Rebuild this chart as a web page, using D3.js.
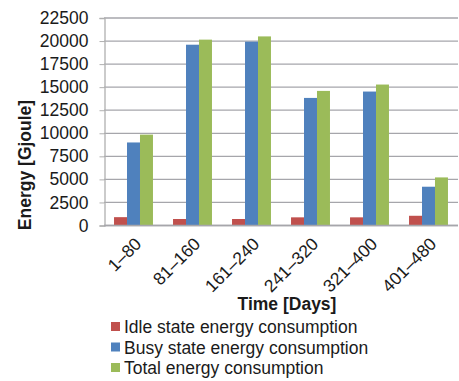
<!DOCTYPE html>
<html>
<head>
<meta charset="utf-8">
<script src="https://cdn.jsdelivr.net/npm/d3@7"></script>
<style>
  html, body { margin: 0; padding: 0; background: #fff; }
  svg { display: block; font-family: "Liberation Sans", Arial, sans-serif; }
</style>
</head>
<body>
<svg id="chart" width="459" height="381"></svg>
<script>
// Time periods (days) and energy per period [Gjoule]
const periods = ["1–80", "81–160", "161–240", "241–320", "321–400", "401–480"];
const idleEnergy  = [850, 650, 650, 830, 830, 1000];
const busyEnergy  = [8950, 19550, 19880, 13780, 14470, 4150];
const totalEnergy = [9800, 20100, 20450, 14540, 15230, 5160];
const yTicks = [0, 2500, 5000, 7500, 10000, 12500, 15000, 17500, 20000, 22500];
const seriesNames = ["Idle state energy consumption", "Busy state energy consumption", "Total energy consumption"];
const seriesColors = ["#C0504D", "#4F81BD", "#9BBB59"];

const series = [idleEnergy, busyEnergy, totalEnergy];
const svg = d3.select("#chart");

const plot = { left: 104, right: 458, top: 17.5, bottom: 225 };

const x = d3.scaleBand().domain(periods).range([plot.left, plot.right]).paddingInner(0.34).paddingOuter(0.17);
const xSeries = d3.scaleBand().domain(d3.range(series.length)).range([0, x.bandwidth()]);
const y = d3.scaleLinear().domain([0, 22500]).range([plot.bottom, plot.top]);

// horizontal gridlines
svg.append("g")
  .selectAll("line")
  .data(yTicks)
  .join("line")
  .attr("x1", plot.left).attr("x2", plot.right)
  .attr("y1", d => y(d) + 0.5).attr("y2", d => y(d) + 0.5)
  .attr("stroke", "#a6a6ab").attr("stroke-width", 1.3);

// y axis
const yAxis = svg.append("g")
  .attr("transform", `translate(${plot.left + 0.5},0.5)`)
  .call(d3.axisLeft(y).tickValues(yTicks).tickSize(5).tickPadding(11).tickFormat(d3.format("d")));
yAxis.select(".domain").attr("stroke", "#b0b0b0").attr("stroke-width", 1.3);
yAxis.selectAll(".tick line").attr("stroke", "#b0b0b0");
yAxis.selectAll(".tick text").attr("font-size", 17.5).attr("fill", "#1a1a1a").attr("font-family", "Liberation Sans, Arial, sans-serif");

// bars
const groups = svg.append("g")
  .selectAll("g")
  .data(periods)
  .join("g")
  .attr("transform", d => `translate(${x(d)},0)`);

groups.selectAll("rect")
  .data((d, i) => series.map((s, k) => ({ k, v: s[i] })))
  .join("rect")
  .attr("x", d => xSeries(d.k))
  .attr("width", xSeries.bandwidth())
  .attr("y", d => y(d.v))
  .attr("height", d => plot.bottom - y(d.v))
  .attr("fill", d => seriesColors[d.k]);

// x axis baseline and labels
svg.append("line")
  .attr("x1", plot.left).attr("x2", plot.right)
  .attr("y1", plot.bottom + 0.5).attr("y2", plot.bottom + 0.5)
  .attr("stroke", "#a6a6ab").attr("stroke-width", 1.3);

const xAxis = svg.append("g")
  .attr("transform", `translate(0,${plot.bottom})`)
  .call(d3.axisBottom(x).tickSize(0).tickPadding(0));
xAxis.select(".domain").remove();
xAxis.selectAll(".tick text")
  .attr("font-size", 17.5)
  .attr("fill", "#1a1a1a")
  .attr("text-anchor", "end")
  .attr("dy", 0)
  .attr("transform", "translate(9,20) rotate(-45)");

// axis titles
svg.append("text")
  .attr("transform", `translate(31,165) rotate(-90)`)
  .attr("text-anchor", "middle")
  .attr("font-size", 17.5).attr("font-weight", "bold").attr("fill", "#1a1a1a")
  .text("Energy [Gjoule]");

svg.append("text")
  .attr("x", 287).attr("y", 310)
  .attr("text-anchor", "middle")
  .attr("font-size", 17.5).attr("font-weight", "bold").attr("fill", "#1a1a1a")
  .text("Time [Days]");

// legend
const legend = svg.append("g").attr("transform", "translate(111,322)");
const items = legend.selectAll("g")
  .data(seriesNames)
  .join("g")
  .attr("transform", (d, i) => `translate(0,${i * 20.5})`);
items.append("rect")
  .attr("width", 9).attr("height", 9)
  .attr("fill", (d, i) => seriesColors[i]);
items.append("text")
  .attr("x", 13).attr("y", 11)
  .attr("font-size", 17.5).attr("fill", "#1a1a1a")
  .text(d => d);
</script>
</body>
</html>
